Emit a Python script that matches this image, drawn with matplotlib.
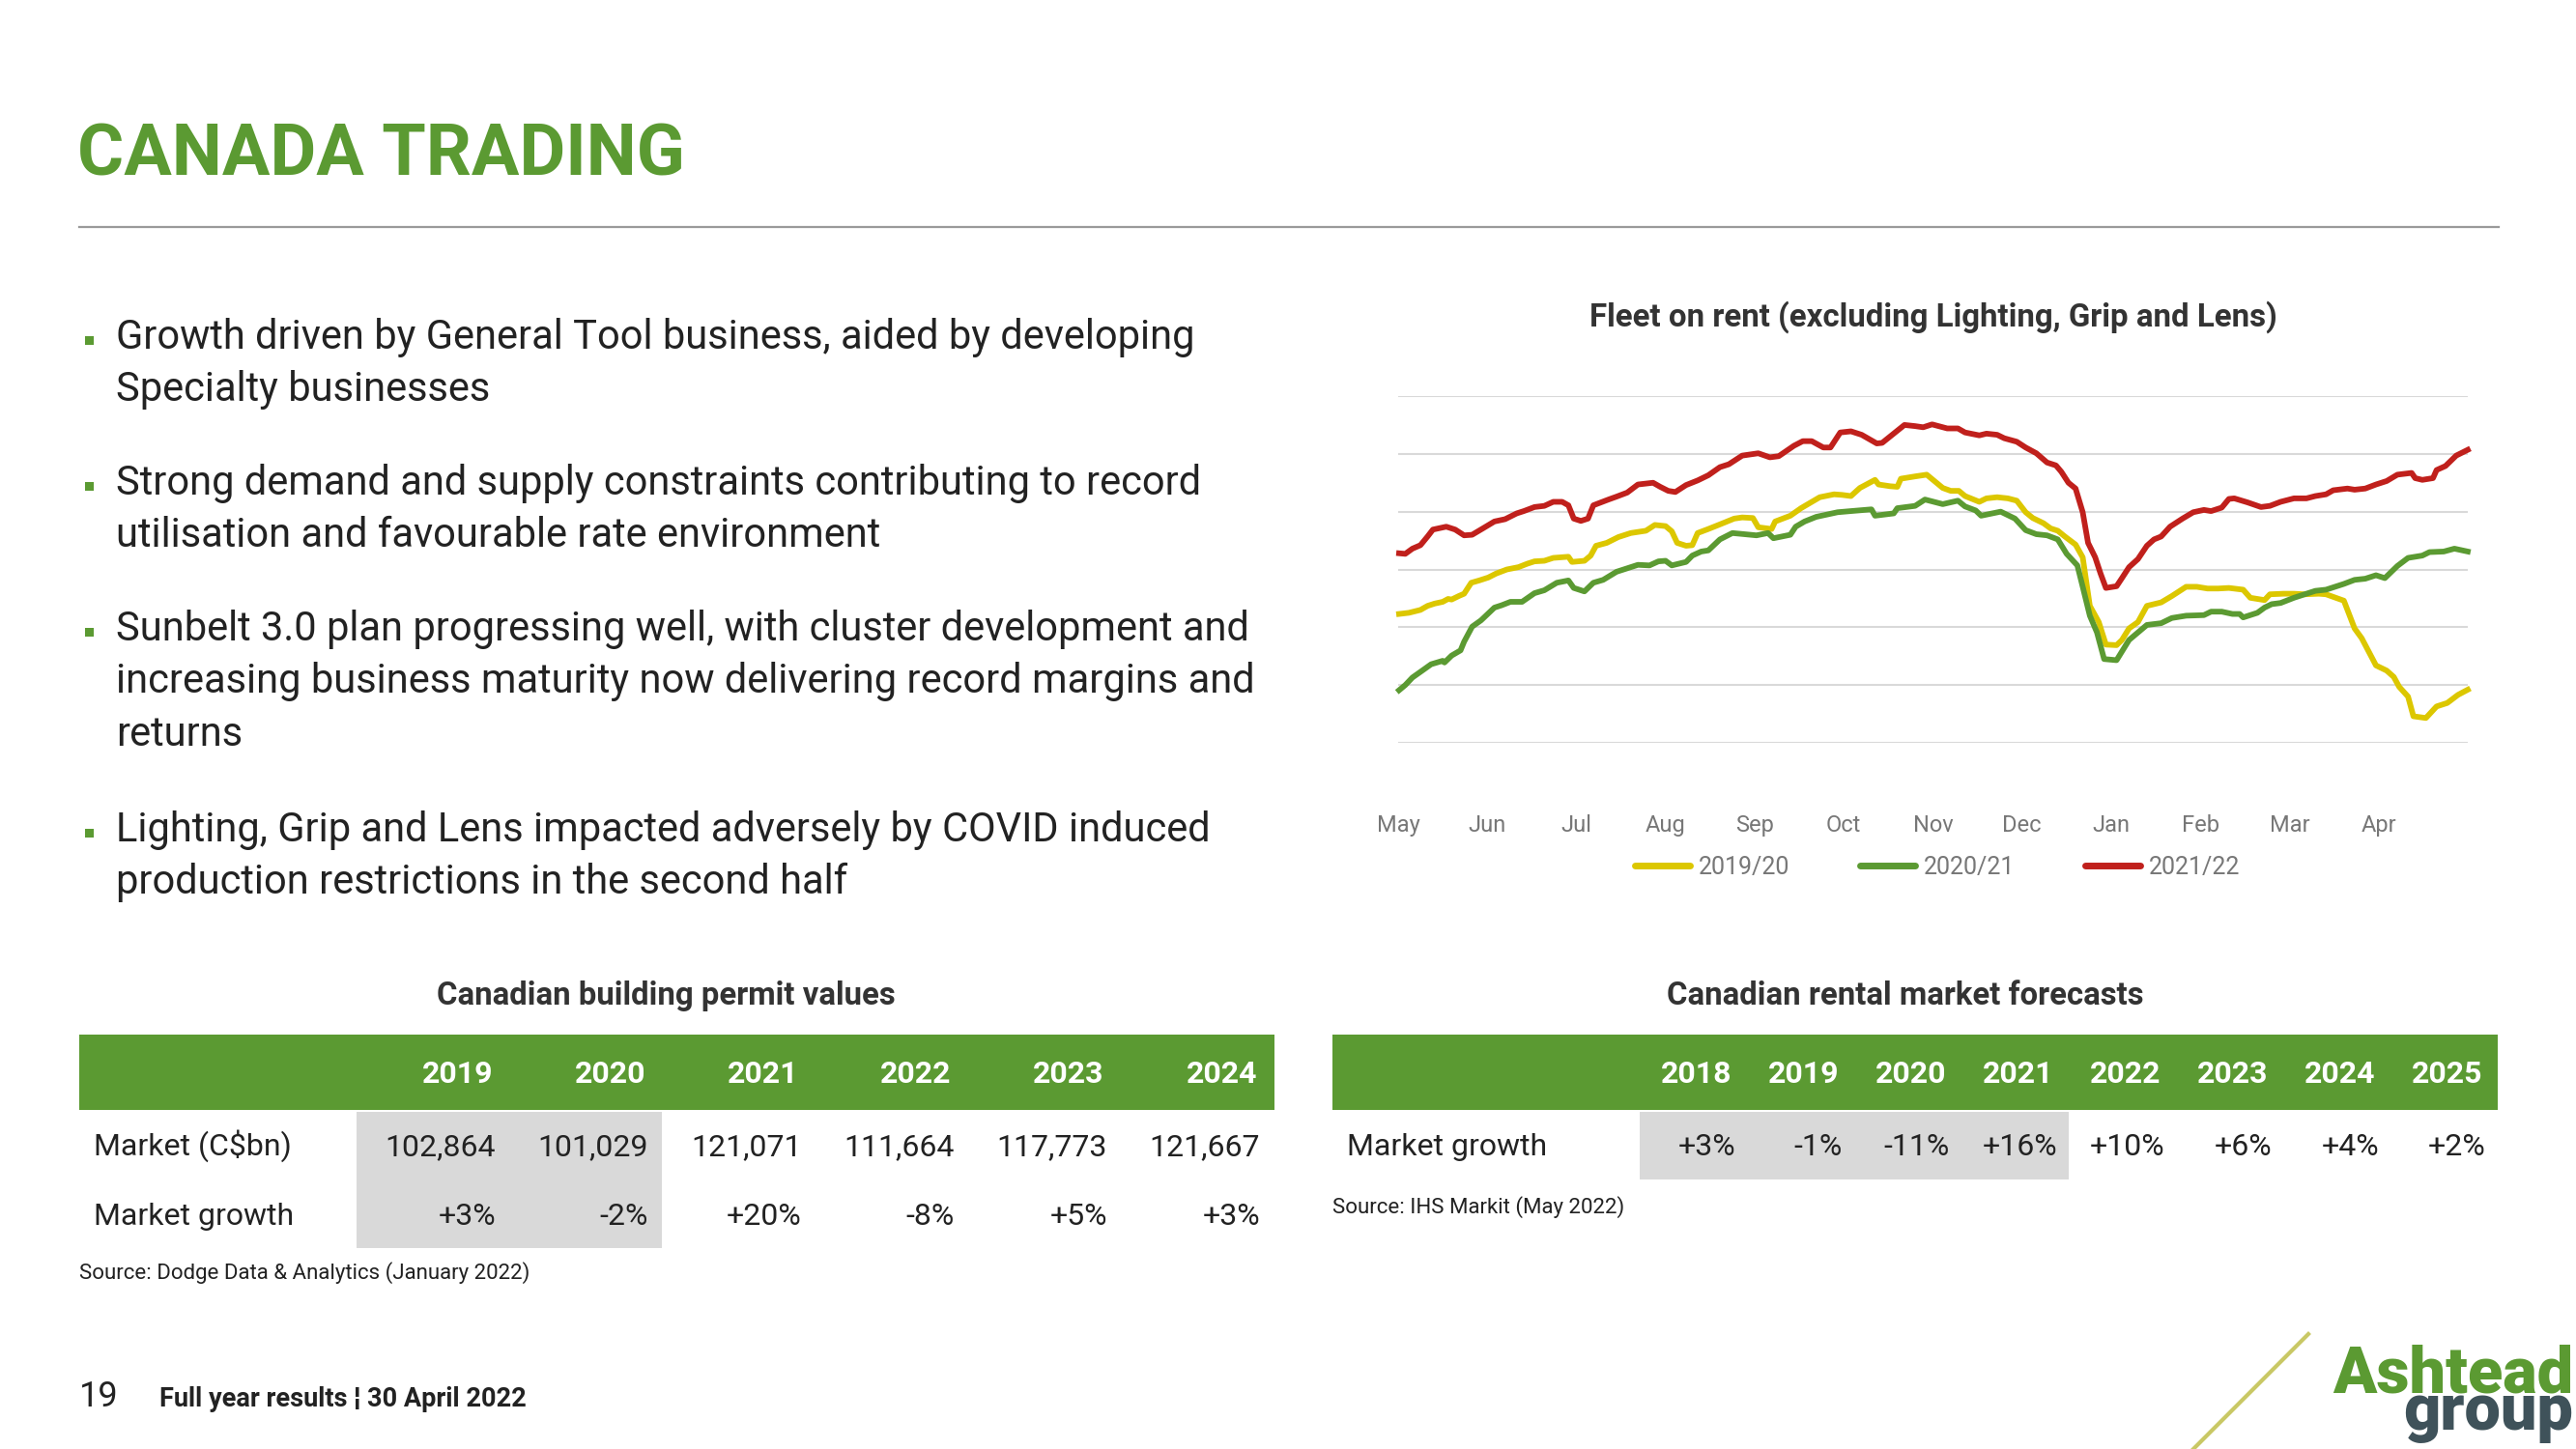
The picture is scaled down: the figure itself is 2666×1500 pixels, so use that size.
import matplotlib
matplotlib.use("Agg")
import matplotlib.pyplot as plt
from matplotlib.patches import Rectangle
from matplotlib.lines import Line2D

# ---- data ----
months = ["May", "Jun", "Jul", "Aug", "Sep", "Oct", "Nov", "Dec", "Jan", "Feb", "Mar", "Apr"]
series_labels = ["2019/20", "2020/21", "2021/22"]

# fleet on rent index, x = months since 1 May
s1920_x = [0.01, 0.12, 0.25, 0.33, 0.41, 0.50, 0.56, 0.60, 0.68, 0.74, 0.82, 0.91, 1.01, 1.10, 1.22, 1.35,
           1.45, 1.53, 1.64, 1.74, 1.91, 1.95, 2.09, 2.16, 2.22, 2.34, 2.47, 2.61, 2.78, 2.88, 3.00, 3.07,
           3.13, 3.23, 3.30, 3.36, 3.48, 3.61, 3.77, 3.86, 3.98, 4.04, 4.19, 4.23, 4.40, 4.52, 4.73, 4.89,
           4.98, 5.08, 5.18, 5.35, 5.39, 5.52, 5.60, 5.64, 5.80, 5.93, 6.11, 6.20, 6.29, 6.36, 6.52, 6.60,
           6.72, 6.84, 6.94, 7.04, 7.12, 7.24, 7.32, 7.40, 7.48, 7.60, 7.68, 7.76, 7.86, 7.94, 8.06, 8.12,
           8.20, 8.30, 8.40, 8.56, 8.68, 8.84, 8.96, 9.08, 9.20, 9.32, 9.48, 9.56, 9.72, 9.78, 9.93, 10.05,
           10.17, 10.33, 10.41, 10.61, 10.73, 10.81, 10.97, 11.09, 11.17, 11.23, 11.33, 11.39, 11.53, 11.65,
           11.77, 11.89, 12.0]
s1920_y = [2.23, 2.25, 2.30, 2.37, 2.41, 2.44, 2.49, 2.48, 2.54, 2.58, 2.77, 2.81, 2.86, 2.93, 3.00, 3.04,
           3.10, 3.14, 3.15, 3.20, 3.22, 3.13, 3.15, 3.24, 3.41, 3.46, 3.56, 3.63, 3.67, 3.77, 3.75, 3.66,
           3.46, 3.41, 3.42, 3.63, 3.70, 3.78, 3.88, 3.90, 3.89, 3.73, 3.70, 3.83, 3.93, 4.06, 4.25, 4.30,
           4.29, 4.27, 4.41, 4.55, 4.47, 4.44, 4.43, 4.57, 4.61, 4.64, 4.41, 4.36, 4.36, 4.27, 4.17, 4.23,
           4.25, 4.23, 4.19, 3.99, 3.89, 3.80, 3.71, 3.67, 3.57, 3.43, 3.21, 2.37, 2.09, 1.70, 1.69, 1.78,
           1.98, 2.09, 2.37, 2.43, 2.54, 2.70, 2.70, 2.67, 2.67, 2.68, 2.65, 2.51, 2.47, 2.57, 2.58, 2.58,
           2.57, 2.58, 2.57, 2.46, 1.98, 1.81, 1.34, 1.25, 1.14, 0.97, 0.80, 0.46, 0.43, 0.63,
           0.69, 0.83, 0.92]

s2021_x = [0.01, 0.08, 0.16, 0.27, 0.37, 0.50, 0.52, 0.60, 0.70, 0.74, 0.83, 0.93, 1.08, 1.16, 1.26, 1.39,
           1.53, 1.64, 1.78, 1.91, 1.97, 2.09, 2.19, 2.30, 2.45, 2.59, 2.69, 2.82, 2.92, 3.00, 3.07, 3.23,
           3.30, 3.40, 3.48, 3.61, 3.75, 4.02, 4.15, 4.21, 4.40, 4.46, 4.56, 4.69, 4.93, 5.08, 5.31, 5.35,
           5.56, 5.60, 5.80, 5.91, 6.11, 6.28, 6.36, 6.48, 6.54, 6.76, 6.92, 7.04, 7.16, 7.28, 7.40, 7.50,
           7.62, 7.68, 7.76, 7.84, 7.92, 8.06, 8.20, 8.40, 8.56, 8.68, 8.84, 9.04, 9.12, 9.24, 9.36, 9.44,
           9.48, 9.64, 9.72, 9.80, 9.90, 10.05, 10.17, 10.29, 10.41, 10.61, 10.73, 10.85, 10.97, 11.07,
           11.21, 11.33, 11.49, 11.57, 11.73, 11.85, 12.0]
s2021_y = [0.91, 1.00, 1.13, 1.25, 1.36, 1.42, 1.39, 1.51, 1.60, 1.75, 2.01, 2.12, 2.34, 2.38, 2.44, 2.44,
           2.59, 2.64, 2.77, 2.81, 2.68, 2.62, 2.77, 2.82, 2.96, 3.03, 3.08, 3.07, 3.14, 3.15, 3.07, 3.13,
           3.24, 3.31, 3.33, 3.52, 3.63, 3.59, 3.63, 3.54, 3.60, 3.74, 3.83, 3.91, 3.99, 4.01, 4.04, 3.93,
           3.97, 4.06, 4.10, 4.21, 4.13, 4.19, 4.09, 4.02, 3.93, 4.00, 3.88, 3.68, 3.61, 3.59, 3.52, 3.27,
           3.07, 2.70, 2.20, 1.91, 1.45, 1.43, 1.78, 2.04, 2.07, 2.16, 2.20, 2.21, 2.27, 2.27, 2.23, 2.23,
           2.17, 2.25, 2.34, 2.40, 2.42, 2.51, 2.57, 2.63, 2.65, 2.75, 2.82, 2.84, 2.90, 2.85,
           3.06, 3.20, 3.24, 3.30, 3.31, 3.36, 3.31]

s2122_x = [0.01, 0.08, 0.16, 0.25, 0.33, 0.39, 0.54, 0.64, 0.74, 0.83, 0.95, 1.08, 1.20, 1.33, 1.41, 1.53,
           1.64, 1.74, 1.84, 1.91, 1.97, 2.05, 2.13, 2.19, 2.36, 2.45, 2.57, 2.69, 2.86, 2.94, 3.03, 3.11,
           3.23, 3.36, 3.48, 3.61, 3.71, 3.86, 4.04, 4.17, 4.27, 4.44, 4.54, 4.64, 4.77, 4.85, 4.96, 5.08,
           5.20, 5.37, 5.43, 5.68, 5.80, 5.89, 5.99, 6.16, 6.28, 6.36, 6.52, 6.60, 6.72, 6.80, 6.94, 7.04,
           7.16, 7.28, 7.38, 7.44, 7.52, 7.60, 7.68, 7.74, 7.82, 7.88, 7.94, 8.06, 8.12, 8.20, 8.30, 8.40,
           8.48, 8.56, 8.66, 8.80, 8.92, 9.04, 9.12, 9.24, 9.32, 9.38, 9.53, 9.68, 9.78, 9.90, 10.05, 10.19,
           10.29, 10.41, 10.49, 10.65, 10.73, 10.85, 10.97, 11.09, 11.21, 11.37, 11.41, 11.49, 11.61, 11.65,
           11.75, 11.87, 12.0]
s2122_y = [3.28, 3.27, 3.36, 3.42, 3.57, 3.69, 3.74, 3.69, 3.59, 3.60, 3.71, 3.83, 3.87, 3.97, 4.01, 4.08,
           4.10, 4.17, 4.17, 4.11, 3.88, 3.84, 3.88, 4.11, 4.21, 4.26, 4.33, 4.47, 4.50, 4.43, 4.36, 4.34,
           4.46, 4.54, 4.63, 4.77, 4.82, 4.97, 5.01, 4.94, 4.96, 5.14, 5.22, 5.22, 5.11, 5.11, 5.37, 5.39,
           5.33, 5.18, 5.19, 5.50, 5.48, 5.46, 5.51, 5.44, 5.44, 5.37, 5.32, 5.35, 5.33, 5.27, 5.21, 5.11,
           5.01, 4.85, 4.80, 4.69, 4.50, 4.40, 3.99, 3.46, 3.21, 2.93, 2.68, 2.71, 2.85, 3.04, 3.18, 3.41,
           3.52, 3.57, 3.74, 3.88, 3.99, 4.03, 4.01, 4.07, 4.22, 4.23, 4.16, 4.08, 4.10, 4.17, 4.23, 4.23,
           4.27, 4.30, 4.37, 4.40, 4.38, 4.40, 4.47, 4.53, 4.64, 4.67, 4.58, 4.55, 4.58, 4.72,
           4.79, 4.97, 5.07]

permit_years = ["2019", "2020", "2021", "2022", "2023", "2024"]
permit_market = ["102,864", "101,029", "121,071", "111,664", "117,773", "121,667"]
permit_growth = ["+3%", "-2%", "+20%", "-8%", "+5%", "+3%"]

rental_years = ["2018", "2019", "2020", "2021", "2022", "2023", "2024", "2025"]
rental_growth = ["+3%", "-1%", "-11%", "+16%", "+10%", "+6%", "+4%", "+2%"]

bullets = [
    ["Growth driven by General Tool business, aided by developing", "Specialty businesses"],
    ["Strong demand and supply constraints contributing to record",
     "utilisation and favourable rate environment"],
    ["Sunbelt 3.0 plan progressing well, with cluster development and",
     "increasing business maturity now delivering record margins and", "returns"],
    ["Lighting, Grip and Lens impacted adversely by COVID induced",
     "production restrictions in the second half"],
]

# ---- style ----
W, H = 2666, 1500
GREEN = "#5b9a32"
YELLOW = "#dcc700"
RED = "#c0201c"
TXT = "#222222"
SHADE = "#d9d9d9"
FONT = ["Roboto", "DejaVu Sans"]
NARROW = ["Liberation Sans Narrow", "Roboto", "DejaVu Sans"]
plt.rcParams["font.family"] = FONT


def fx(x):
    return x / W


def fy(y):
    return 1 - y / H


fig = plt.figure(figsize=(W / 100, H / 100), dpi=100)

# header
fig.text(fx(80), fy(182), "CANADA TRADING", fontsize=53, fontweight="bold", color=GREEN, va="baseline")
fig.add_artist(Line2D([fx(82), fx(2586)], [fy(235), fy(235)], color="#9a9a9a", lw=1.6))

# bullets
bullet_y = [349, 500, 651, 859]
for lines, y0 in zip(bullets, bullet_y):
    fig.add_artist(Rectangle((fx(88), fy(y0 + 8)), 9 / W, 9 / H, color=GREEN, lw=0))
    for k, line in enumerate(lines):
        fig.text(fx(120), fy(y0 + 12 + k * 54.5), line, fontsize=30, color=TXT, va="baseline")

# chart
ax = fig.add_axes([fx(1447), fy(769), 1107 / W, 359 / H])
ax.plot(s1920_x, s1920_y, color=YELLOW, lw=4.2, label=series_labels[0], solid_joinstyle="round")
ax.plot(s2021_x, s2021_y, color=GREEN, lw=4.2, label=series_labels[1], solid_joinstyle="round")
ax.plot(s2122_x, s2122_y, color=RED, lw=4.2, label=series_labels[2], solid_joinstyle="round")
ax.set_xlim(0, 12)
ax.set_ylim(0, 6)
ax.set_yticks(range(7))
ax.set_yticklabels([])
ax.grid(axis="y", color="#d9d9d9", lw=1.5)
ax.set_axisbelow(True)
ax.set_xticks(range(12))
ax.set_xticklabels(months, family=NARROW, fontsize=17, color="#777777")
ax.tick_params(length=0, pad=53)
for s in ax.spines.values():
    s.set_visible(False)
for ln in ax.lines:
    ln.set_clip_on(False)
leg = ax.legend(loc="center", bbox_to_anchor=(fx(2005), fy(898)), bbox_transform=fig.transFigure,
                ncol=3, frameon=False, handlelength=2.3, handletextpad=0.35, columnspacing=2.9,
                prop={"family": NARROW, "size": 18})
for t in leg.get_texts():
    t.set_color("#777777")
for h in leg.legend_handles:
    h.set_linewidth(5)
    h.set_solid_capstyle("round")
fig.text(fx(2001), fy(338), "Fleet on rent (excluding Lighting, Grip and Lens)", fontsize=23.8,
         fontweight="bold", color="#333333", ha="center", va="baseline")

# left table
fig.text(fx(689), fy(1040), "Canadian building permit values", fontsize=23.7, fontweight="bold",
         color="#333333", ha="center", va="baseline")
fig.add_artist(Rectangle((fx(82), fy(1149)), (1319 - 82) / W, 78 / H, color=GREEN, lw=0))
fig.add_artist(Rectangle((fx(369), fy(1292)), (685 - 369) / W, (1292 - 1151) / H, color=SHADE, lw=0))
col_r = [510 + 158.2 * i for i in range(len(permit_years))]
for i, yr in enumerate(permit_years):
    fig.text(fx(col_r[i]), fy(1121), yr, fontsize=23, fontweight="bold", color="white",
             ha="right", va="baseline")
    fig.text(fx(col_r[i] + 3), fy(1196), permit_market[i], fontsize=23, color=TXT,
             ha="right", va="baseline")
    fig.text(fx(col_r[i] + 3), fy(1268), permit_growth[i], fontsize=23, color=TXT,
             ha="right", va="baseline")
fig.text(fx(97), fy(1196), "Market (C$bn)", fontsize=23, color=TXT, va="baseline")
fig.text(fx(97), fy(1268), "Market growth", fontsize=23, color=TXT, va="baseline")
fig.text(fx(82), fy(1324), "Source: Dodge Data & Analytics (January 2022)", fontsize=16, color=TXT,
         va="baseline")

# right table
fig.text(fx(1972), fy(1040), "Canadian rental market forecasts", fontsize=23.7, fontweight="bold",
         color="#333333", ha="center", va="baseline")
fig.add_artist(Rectangle((fx(1379), fy(1149)), (2585 - 1379) / W, 78 / H, color=GREEN, lw=0))
fig.add_artist(Rectangle((fx(1697), fy(1221)), (2141 - 1697) / W, (1221 - 1151) / H, color=SHADE, lw=0))
col_r2 = [1792 + 111 * i for i in range(len(rental_years))]
for i, yr in enumerate(rental_years):
    fig.text(fx(col_r2[i]), fy(1121), yr, fontsize=23, fontweight="bold", color="white",
             ha="right", va="baseline")
    fig.text(fx(col_r2[i] + 4), fy(1196), rental_growth[i], fontsize=23, color=TXT,
             ha="right", va="baseline")
fig.text(fx(1394), fy(1196), "Market growth", fontsize=23, color=TXT, va="baseline")
fig.text(fx(1379), fy(1256), "Source: IHS Markit (May 2022)", fontsize=16, color=TXT, va="baseline")

# footer
fig.text(fx(82), fy(1456), "19", fontsize=26, color=TXT, va="baseline")
fig.text(fx(165), fy(1456), "Full year results \u00a6 30 April 2022", fontsize=19.5, fontweight="bold",
         color=TXT, va="baseline")
fig.add_artist(Line2D([fx(2270), fx(2389)], [fy(1500), fy(1381)], color="#c9c865", lw=3))
fig.text(fx(2663), fy(1441), "Ashtead", fontsize=48, fontweight="black", color=GREEN,
         ha="right", va="baseline")
fig.text(fx(2663), fy(1480), "group", fontsize=48, fontweight="black", color="#3f525a",
         ha="right", va="baseline")

fig.savefig("out.png", dpi=100, facecolor="white")
